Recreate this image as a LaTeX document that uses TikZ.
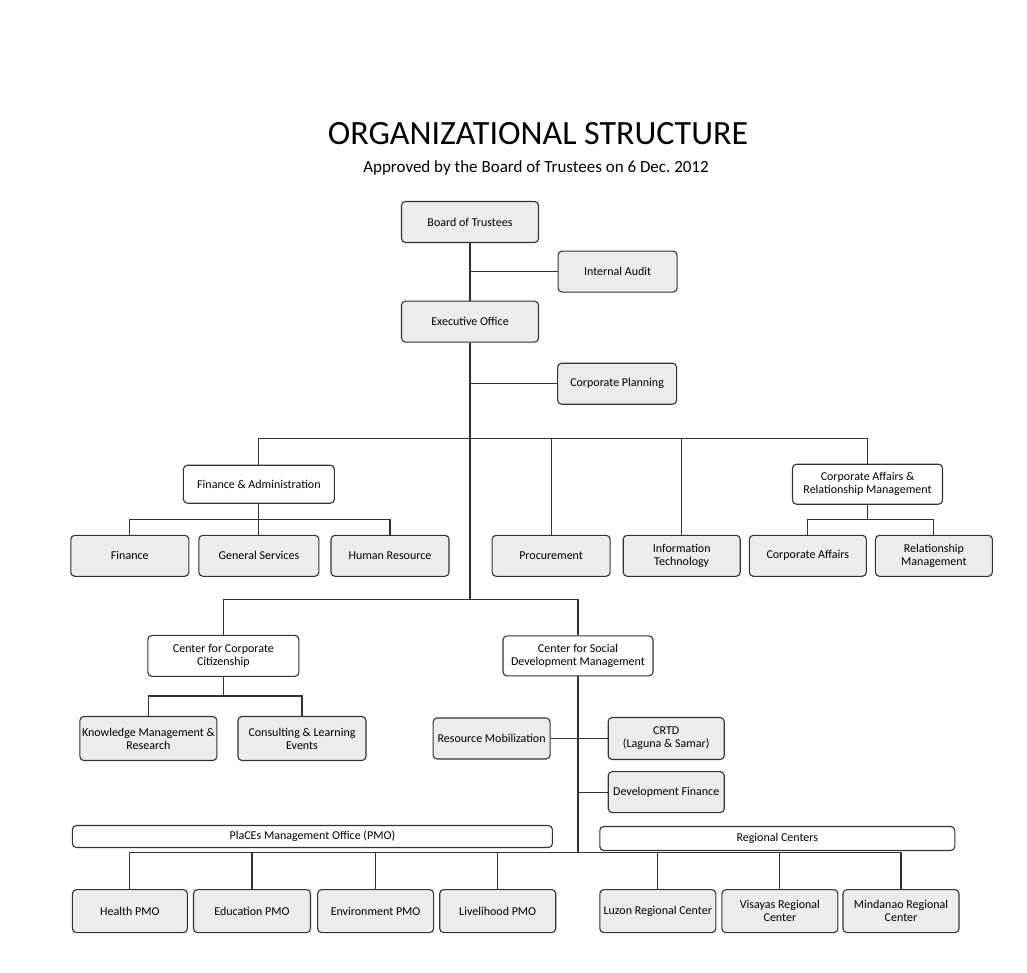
\documentclass[tikz,border=0pt]{standalone}
\usepackage{fontspec}
\setmainfont{Carlito}
\usepackage{tikz}
\usetikzlibrary{positioning}
\definecolor{BoxGray}{rgb}{0.925,0.925,0.925}
\definecolor{LineGray}{rgb}{0.2,0.2,0.2}
\tikzstyle{unit} = [rectangle, rounded corners=4pt, text centered, draw=LineGray, line width=1.1pt, fill=BoxGray, minimum height=41pt, inner sep=1pt, font=\fontsize{12}{13}\selectfont]
\tikzstyle{head} = [unit, fill=white]
\tikzstyle{banner} = [unit, fill=white, minimum height=22pt]
\tikzstyle{link} = [line width=1.1pt, draw=LineGray]
\newcommand{\orgtitle}[1]{{\fontsize{34}{38}\selectfont #1}}

\begin{document}
\begin{tikzpicture}
  \useasboundingbox (0,0) rectangle (1027pt,-972pt);

  \node (title) [anchor=base] at (538pt,-144pt) {\orgtitle{ORGANIZATIONAL STRUCTURE}};
  \node (subtitle) [anchor=base, font=\fontsize{17}{19}\selectfont] at (536pt,-172pt) {Approved by the Board of Trustees on 6 Dec.\ 2012};

  \node (board) [unit, minimum width=137pt] at (470pt,-222pt) {Board of Trustees};
  \node (audit) [unit, minimum width=119pt, below right=7.5pt and 18.5pt of board] {Internal Audit};
  \node (exec) [unit, minimum width=137pt, below=57.5pt of board] {Executive Office};
  \node (plan) [unit, minimum width=119pt, below right=20pt and 18pt of exec] {Corporate Planning};

  \node (finadm) [head, minimum width=151pt, minimum height=38pt, below left=122pt and 66pt of exec] {Finance \& Administration};
  \node (gensvc) [unit, minimum width=120pt, below=31pt of finadm] {General Services};
  \node (finance) [unit, minimum width=118pt, left=9pt of gensvc] {Finance};
  \node (hr) [unit, minimum width=118pt, right=11pt of gensvc] {Human Resource};
  \node (proc) [unit, minimum width=118pt, right=42pt of hr] {Procurement};
  \node (it) [unit, minimum width=117pt, right=12pt of proc, align=center] {Information\\ Technology};
  \node (corpaff) [unit, minimum width=117pt, right=8pt of it] {Corporate Affairs};
  \node (relmgt) [unit, minimum width=117pt, right=8pt of corpaff, align=center] {Relationship\\ Management};
  \node (carm) [head, minimum width=150pt, minimum height=40pt, right=457pt of finadm, align=center] {Corporate Affairs \&\\ Relationship Management};

  \node (ccc) [head, minimum width=151pt, below=58pt of gensvc, xshift=-35.5pt, align=center] {Center for Corporate\\ Citizenship};
  \node (kmr) [unit, minimum width=137pt, minimum height=44pt, below=39pt of ccc, xshift=-75pt, align=center] {Knowledge Management \&\\ Research};
  \node (cle) [unit, minimum width=128pt, minimum height=44pt, right=20pt of kmr, align=center] {Consulting \& Learning\\ Events};
  \node (csdm) [head, minimum width=150pt, minimum height=40pt, right=203pt of ccc, align=center] {Center for Social\\ Development Management};
  \node (resmob) [unit, minimum width=117pt, right=66pt of cle] {Resource Mobilization};
  \node (crtd) [unit, minimum width=116pt, minimum height=42pt, right=57pt of resmob, align=center] {CRTD\\ (Laguna \& Samar)};
  \node (devfin) [unit, minimum width=116pt, below=11pt of crtd] {Development Finance};

  \node (health) [unit, minimum width=115pt, minimum height=43pt, below=128pt of kmr, xshift=-18.5pt] {Health PMO};
  \node (edu) [unit, minimum width=117pt, minimum height=43pt, right=5pt of health] {Education PMO};
  \node (env) [unit, minimum width=116pt, minimum height=43pt, right=6pt of edu] {Environment PMO};
  \node (live) [unit, minimum width=116pt, minimum height=43pt, right=5pt of env] {Livelihood PMO};
  \node (luzon) [unit, minimum width=116pt, minimum height=43pt, right=43pt of live] {Luzon Regional Center};
  \node (visayas) [unit, minimum width=116pt, minimum height=43pt, right=5pt of luzon, align=center] {Visayas Regional\\ Center};
  \node (mindanao) [unit, minimum width=116pt, minimum height=43pt, right=4pt of visayas, align=center] {Mindanao Regional\\ Center};

  \node (pmo) [banner, minimum width=480pt, above=41pt of health.north west, anchor=south west] {PlaCEs Management Office (PMO)};
  \node (regional) [banner, minimum width=355pt, minimum height=24pt, above=38pt of luzon.north west, anchor=south west] {Regional Centers};

  \node (topbar) [coordinate, below=96pt of exec] {};
  \node (trunkend) [coordinate, below=257pt of exec] {};
  \node (fabar) [coordinate, below=16pt of finadm] {};
  \node (carmbar) [coordinate, below=15pt of carm] {};
  \node (cccbar) [coordinate, below=19pt of ccc] {};
  \node (botbar) [coordinate, below=176pt of csdm] {};

  \draw [link] (board) -- (exec);
  \draw [link] (audit) -- (audit -| board);
  \draw [link] (plan) -- (plan -| exec);
  \draw [link] (exec) -- (trunkend);
  \draw [link] (finadm) |- (topbar) -| (carm);
  \draw [link] (proc) -- (proc |- topbar);
  \draw [link] (it) -- (it |- topbar);
  \draw [link] (finance) |- (fabar) -| (hr);
  \draw [link] (finadm) -- (gensvc);
  \draw [link] (corpaff) |- (carmbar) -| (relmgt);
  \draw [link] (carm) -- (carmbar);
  \draw [link] (ccc) |- (trunkend) -| (csdm);
  \draw [link] (kmr) |- (cccbar) -| (cle);
  \draw [link] (ccc) -- (cccbar);
  \draw [link] (csdm) -- (botbar);
  \draw [link] (resmob) -- (crtd);
  \draw [link] (devfin) -- (devfin -| csdm);
  \draw [link] (health) |- (botbar) -| (mindanao);
  \draw [link] (edu) -- (edu |- botbar);
  \draw [link] (env) -- (env |- botbar);
  \draw [link] (live) -- (live |- botbar);
  \draw [link] (luzon) -- (luzon |- botbar);
  \draw [link] (visayas) -- (visayas |- botbar);

\end{tikzpicture}
\end{document}
